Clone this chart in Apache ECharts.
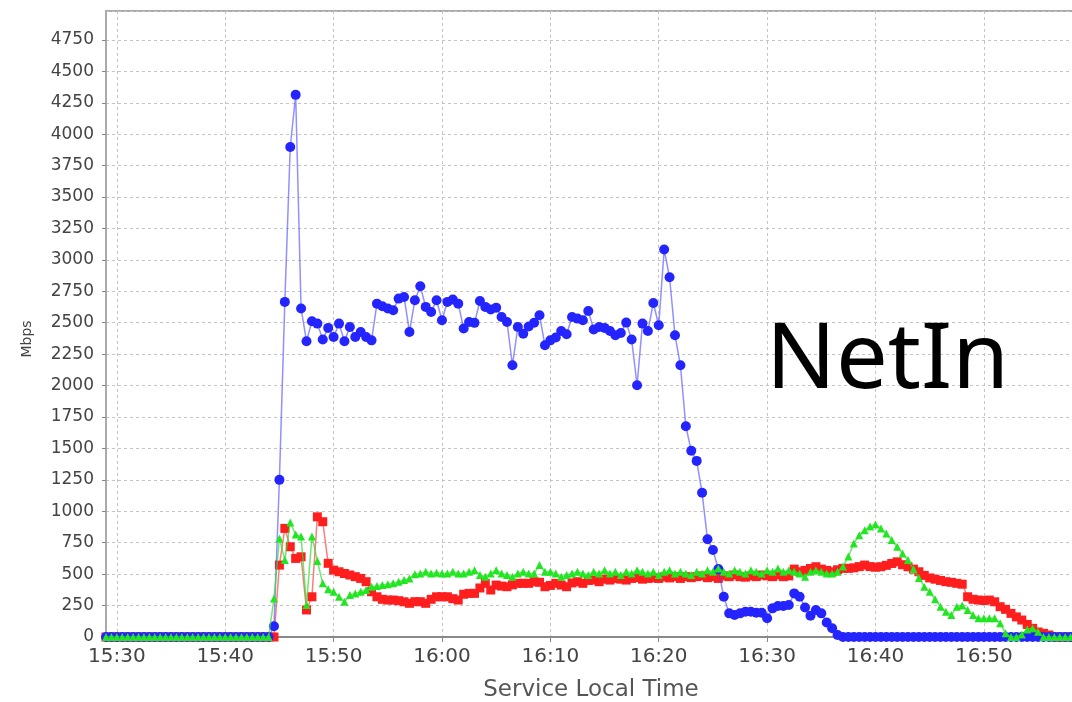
<!DOCTYPE html>
<html>
<head>
<meta charset="utf-8">
<script src="https://cdn.jsdelivr.net/npm/echarts@6/dist/echarts.min.js"></script>
<style>
html,body{margin:0;padding:0;background:#fff;}
#chart{width:1072px;height:702px;}
</style>
</head>
<body>
<div id="chart"></div>
<script>
// Samples every 30 s, starting 15:29:00 (one row = 5 minutes)
const START_TIME = '15:29:00';
const STEP_SECONDS = 30;

const blueValues = [
  0,0,0,0,0,0,0,0,0,0,
  0,0,0,0,0,0,0,0,0,0,
  0,0,0,0,0,0,0,0,0,0,
  0,85,1250,2666,3898,4313,2613,2353,2512,2493,
  2366,2459,2387,2493,2353,2466,2387,2427,2387,2360,
  2652,2631,2613,2599,2692,2705,2427,2679,2790,2626,
  2586,2679,2520,2666,2684,2652,2454,2506,2499,2673,
  2626,2605,2620,2546,2506,2162,2466,2413,2470,2500,
  2560,2321,2360,2382,2435,2408,2546,2533,2520,2594,
  2446,2466,2459,2435,2400,2419,2501,2366,2003,2493,
  2435,2657,2480,3082,2862,2400,2162,1677,1481,1401,
  1147,777,692,540,320,188,175,188,201,201,
  193,193,149,228,246,246,254,347,320,235,
  170,215,188,115,69,16,0,0,0,0,
  0,0,0,0,0,0,0,0,0,0,
  0,0,0,0,0,0,0,0,0,0,
  0,0,0,0,0,0,0,0,0,0,
  0,0,0,0,0,0,0,0,0,0
];

const redValues = [
  0,0,0,0,0,0,0,0,0,0,
  0,0,0,0,0,0,0,0,0,0,
  0,0,0,0,0,0,0,0,0,0,
  0,0,572,864,718,625,638,215,320,956,
  917,586,532,519,505,493,480,466,440,360,
  320,300,294,294,289,280,268,281,281,268,
  300,320,320,320,305,294,340,347,347,390,
  427,374,413,405,400,415,427,427,427,440,
  435,400,410,427,413,400,430,440,427,450,
  453,440,460,453,466,460,453,466,472,460,
  466,470,466,478,470,480,466,480,472,480,
  486,472,480,466,486,480,493,480,476,486,
  480,493,486,480,493,480,486,540,519,530,
  545,559,540,530,519,535,546,546,550,560,
  572,560,555,559,570,585,598,575,559,540,
  519,490,470,460,450,440,435,427,420,320,
  300,294,290,294,280,241,220,188,160,135,
  100,69,40,29,16,0,0,0,0,0
];

const greenValues = [
  0,0,0,0,0,0,0,0,0,0,
  0,0,0,0,0,0,0,0,0,0,
  0,0,0,0,0,0,0,0,0,0,
  0,307,784,612,910,815,800,254,800,605,
  427,380,360,320,281,334,347,360,374,400,
  405,413,420,427,440,453,466,500,506,519,
  506,512,506,506,519,506,506,519,532,493,
  480,506,532,506,493,480,506,519,506,506,
  572,519,519,506,480,493,506,519,506,493,
  519,506,532,506,519,493,519,506,532,519,
  506,519,493,519,532,506,519,506,493,519,
  506,532,519,545,519,506,532,519,506,532,
  519,506,532,519,545,519,532,519,506,480,
  519,532,519,506,506,520,560,640,744,810,
  850,880,895,864,824,771,718,665,612,540,
  470,400,360,300,241,200,175,241,250,215,
  175,149,149,149,149,109,29,0,0,20,
  60,69,42,0,0,0,0,0,0,0
];

const yTickValues = {min: 0, max: 4980, step: 250};
const xAxisTitle = 'Service Local Time';
const yAxisTitle = 'Mbps';
const chartLabel = 'NetIn';

// build time categories
function pad(n){ return (n < 10 ? '0' : '') + n; }
const categories = [];
(function(){
  const p = START_TIME.split(':').map(Number);
  const s0 = p[0]*3600 + p[1]*60 + p[2];
  for (let i = 0; i < blueValues.length; i++) {
    const s = s0 + i*STEP_SECONDS;
    categories.push(pad(Math.floor(s/3600)) + ':' + pad(Math.floor(s/60)%60) + ':' + pad(s%60));
  }
})();

const isTenMinute = (idx, val) => val.slice(4) === '0:00';
const FONT = 'DejaVu Sans';

const chart = echarts.init(document.getElementById('chart'), null, {renderer: 'canvas'});
chart.setOption({
  animation: false,
  backgroundColor: '#ffffff',
  title: {
    text: chartLabel,
    left: 766, top: 316, padding: 0,
    textStyle: {fontSize: 92, fontWeight: 'normal', color: '#000', fontFamily: 'Noto Sans'}
  },
  grid: {
    left: 106, right: -4, top: 11, bottom: 65,
    outerBoundsMode: 'none',
    containLabel: false,
    show: true, borderColor: '#aaaaaa', borderWidth: 2, backgroundColor: '#ffffff'
  },
  xAxis: {
    type: 'category',
    data: categories,
    boundaryGap: false,
    name: xAxisTitle,
    nameLocation: 'middle',
    nameGap: 42,
    nameTextStyle: {fontSize: 23, color: '#555', fontFamily: FONT},
    axisLine: {show: true, lineStyle: {color: '#8a8a8a', width: 2}},
    axisTick: {show: true, interval: isTenMinute, length: 5, lineStyle: {color: '#888'}},
    axisLabel: {
      interval: isTenMinute, margin: 10, fontSize: 20, color: '#444', fontFamily: FONT,
      formatter: v => v.slice(0, 5)
    },
    splitLine: {show: true, interval: isTenMinute, lineStyle: {color: '#c4c4c4', type: [3, 3], width: 1}}
  },
  yAxis: {
    type: 'value',
    min: yTickValues.min, max: yTickValues.max, interval: yTickValues.step,
    name: yAxisTitle,
    nameLocation: 'middle',
    nameRotate: 90,
    nameGap: 72,
    nameTextStyle: {fontSize: 14, color: '#444', fontFamily: FONT, padding: [0, 30, 0, 0]},
    axisLine: {show: true, lineStyle: {color: '#aaaaaa', width: 2}},
    axisTick: {show: true, length: 4, lineStyle: {color: '#888'}},
    axisLabel: {
      showMaxLabel: false, margin: 12, fontSize: 17, color: '#444', fontFamily: FONT,
      formatter: v => String(v)
    },
    splitLine: {show: true, lineStyle: {color: '#c4c4c4', type: [3, 3], width: 1}}
  },
  series: [
    {
      name: 'red', type: 'line', data: redValues,
      symbol: 'rect', symbolSize: 9, showAllSymbol: true,
      itemStyle: {color: '#ff1e1e'},
      lineStyle: {color: 'rgba(255,50,50,0.65)', width: 1.5},
      z: 2
    },
    {
      name: 'blue', type: 'line', data: blueValues,
      symbol: 'circle', symbolSize: 10, showAllSymbol: true,
      itemStyle: {color: '#2424ff'},
      lineStyle: {color: 'rgba(70,70,255,0.6)', width: 1.5},
      z: 3
    },
    {
      name: 'green', type: 'line', data: greenValues,
      symbol: 'triangle', symbolSize: 8, showAllSymbol: true,
      itemStyle: {color: '#22e622'},
      lineStyle: {color: 'rgba(50,220,50,0.7)', width: 1.5},
      z: 4
    }
  ]
});
</script>
</body>
</html>
